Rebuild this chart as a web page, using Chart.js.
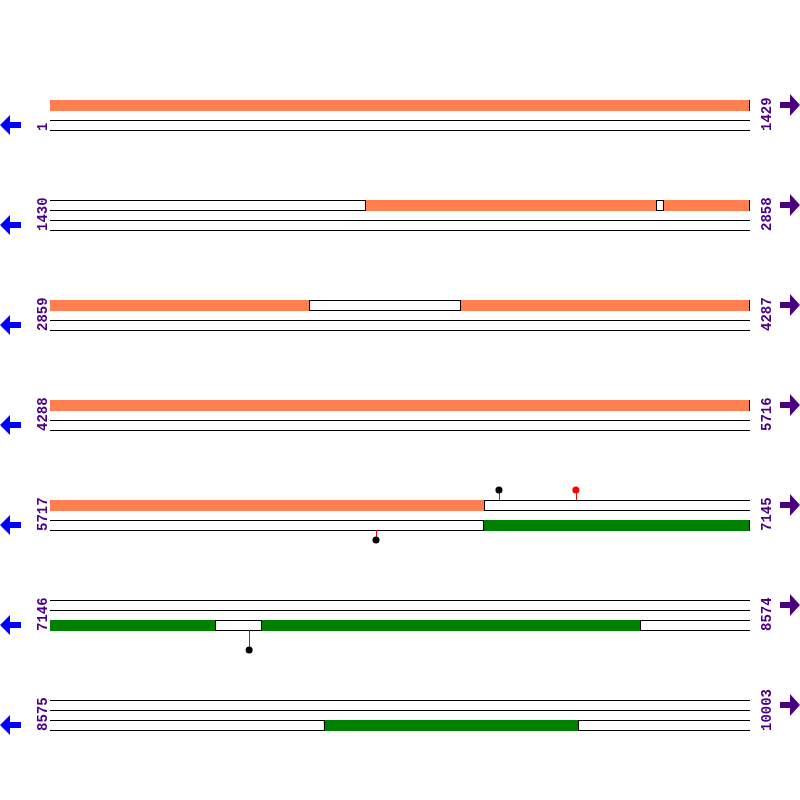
<!DOCTYPE html>
<html>
<head>
<meta charset="utf-8">
<script src="https://cdn.jsdelivr.net/npm/chart.js@4.4.1/dist/chart.umd.min.js"></script>
<style>
  html, body { margin: 0; padding: 0; background: #fff; }
  canvas { display: block; }
</style>
</head>
<body>
<canvas id="mapChart" width="800" height="800"></canvas>
<script>
// sequence rows (bp)
const rowStarts = [1, 1430, 2859, 4288, 5717, 7146, 8575];
const rowEnds = [1429, 2858, 4287, 5716, 7145, 8574, 10003];

// features on the forward strand
const fwdStarts = [1, 2073, 2681, 3696];
const fwdEnds = [1429, 2668, 3389, 6604];

// features on the reverse strand
const revStarts = [6601, 7577, 9134];
const revEnds = [7484, 8351, 9654];

// sites (lollipops)
const fwdSites = [6633, 6790];
const fwdSiteTiers = [1, 1];
const revSites = [6382, 7552];
const revSiteTiers = [1, 2];

const ROW_LEN = rowEnds[0] - rowStarts[0] + 1;
const FWD_COLOR = "#FF7F50";
const REV_COLOR = "#008000";
const LABEL_COLOR = "#4B0082";
const fwdHeadColors = ["#000000", "#FF0000"];
const revHeadColors = ["#000000", "#000000"];

function rowOf(bp) {
    for (let i = 0; i < rowStarts.length; i++) {
        if (bp >= rowStarts[i] && bp <= rowEnds[i]) return i;
    }
    return -1;
}

function segments(starts, ends) {
    const segs = [];
    starts.forEach((s, i) => {
        const e = ends[i];
        rowStarts.forEach((rs, r) => {
            const a = Math.max(s, rs);
            const b = Math.min(e, rowEnds[r]);
            if (a <= b) segs.push({ row: r, from: a - rs, to: b - rs + 1 });
        });
    });
    return segs;
}

// lane offsets inside a row, in row units
const LANE_FWD = 0;
const LANE_REV = 0.2;
const LANE_H = 0.1;

function sitePoints(sites, tiers, lane, dir) {
    return sites.map((bp, i) => {
        const r = rowOf(bp);
        const base = r + 1 + lane + (dir > 0 ? LANE_H : 0);
        return { x: bp - rowStarts[r] + 0.5, y: base + dir * 0.1 * tiers[i], base: base };
    });
}

const fwdPts = sitePoints(fwdSites, fwdSiteTiers, LANE_FWD, -1);
const revPts = sitePoints(revSites, revSiteTiers, LANE_REV, 1);

const mapPlugin = {
    id: "seqMap",
    beforeDatasetsDraw(chart) {
        const ctx = chart.ctx;
        const xs = chart.scales.x;
        const ys = chart.scales.y;
        const px = (v) => xs.getPixelForValue(v);
        const py = (v) => Math.round(ys.getPixelForValue(v));
        const x0 = px(0), x1 = px(ROW_LEN);
        ctx.save();

        // lane lines
        ctx.strokeStyle = "#000";
        ctx.lineWidth = 1;
        rowStarts.forEach((rs, r) => {
            [0, 0.1, 0.2, 0.3].forEach((off) => {
                const y = py(r + 1 + off) + 0.5;
                ctx.beginPath();
                ctx.moveTo(x0, y);
                ctx.lineTo(x1, y);
                ctx.stroke();
            });
        });

        // feature boxes
        const drawSegs = (segs, lane, color) => {
            segs.forEach((s) => {
                const top = py(s.row + 1 + lane);
                const bot = py(s.row + 1 + lane + LANE_H) + 1;
                const a = px(s.from), b = px(s.to);
                ctx.fillStyle = color;
                ctx.fillRect(a, top, b - a, bot - top);
                ctx.fillStyle = "#000";
                if (Math.round(a) > Math.round(x0)) ctx.fillRect(Math.round(a), top, 1, bot - top);
                ctx.fillRect(Math.round(b) - 1, top, 1, bot - top);
            });
        };
        drawSegs(segments(fwdStarts, fwdEnds), LANE_FWD, FWD_COLOR);
        drawSegs(segments(revStarts, revEnds), LANE_REV, REV_COLOR);

        // lollipop stems
        ctx.strokeStyle = "#FF0000";
        [...fwdPts, ...revPts].forEach((p) => {
            const x = Math.round(px(p.x)) + 0.5;
            ctx.beginPath();
            ctx.moveTo(x, py(p.base));
            ctx.lineTo(x, py(p.y));
            ctx.stroke();
        });

        // row labels and strand arrows
        ctx.font = "bold 14px 'Liberation Mono'";
        ctx.textAlign = "left";
        ctx.textBaseline = "alphabetic";
        rowStarts.forEach((rs, r) => {
            const bottom = py(r + 1 + 0.3) + 1;
            ctx.fillStyle = LABEL_COLOR;
            ctx.save();
            ctx.translate(47, bottom);
            ctx.rotate(-Math.PI / 2);
            ctx.fillText(String(rs), 0, 0);
            ctx.restore();
            ctx.save();
            ctx.translate(771, bottom);
            ctx.rotate(-Math.PI / 2);
            ctx.fillText(String(rowEnds[r]), 0, 0);
            ctx.restore();

            // reverse arrow (left, blue)
            const yr = py(r + 1 + LANE_REV + LANE_H / 2);
            ctx.fillStyle = "#0000FF";
            ctx.beginPath();
            ctx.moveTo(0, yr);
            ctx.lineTo(10, yr - 10);
            ctx.lineTo(10, yr - 3);
            ctx.lineTo(21, yr - 3);
            ctx.lineTo(21, yr + 3);
            ctx.lineTo(10, yr + 3);
            ctx.lineTo(10, yr + 10);
            ctx.closePath();
            ctx.fill();

            // forward arrow (right, purple)
            const yf = py(r + 1 + LANE_FWD + LANE_H / 2);
            ctx.fillStyle = LABEL_COLOR;
            ctx.beginPath();
            ctx.moveTo(800, yf);
            ctx.lineTo(790, yf - 11);
            ctx.lineTo(790, yf - 3);
            ctx.lineTo(780, yf - 3);
            ctx.lineTo(780, yf + 3);
            ctx.lineTo(790, yf + 3);
            ctx.lineTo(790, yf + 11);
            ctx.closePath();
            ctx.fill();
        });
        ctx.restore();
    },
};

const pxPerBp = 700 / ROW_LEN;
new Chart(document.getElementById("mapChart"), {
    type: "scatter",
    data: {
        datasets: [
            {
                label: "forward sites",
                data: fwdPts,
                pointRadius: 3.5,
                pointBackgroundColor: fwdHeadColors,
                pointBorderWidth: 0,
            },
            {
                label: "reverse sites",
                data: revPts,
                pointRadius: 3.5,
                pointBackgroundColor: revHeadColors,
                pointBorderWidth: 0,
            },
        ],
    },
    options: {
        responsive: false,
        animation: false,
        devicePixelRatio: 1,
        layout: { padding: 0, autoPadding: false },
        scales: {
            x: { type: "linear", display: false, min: -50 / pxPerBp, max: 750 / pxPerBp },
            y: { type: "linear", display: false, min: 0, max: 8, reverse: true },
        },
        plugins: {
            legend: { display: false },
            tooltip: { enabled: false },
        },
    },
    plugins: [mapPlugin],
});
</script>
</body>
</html>
